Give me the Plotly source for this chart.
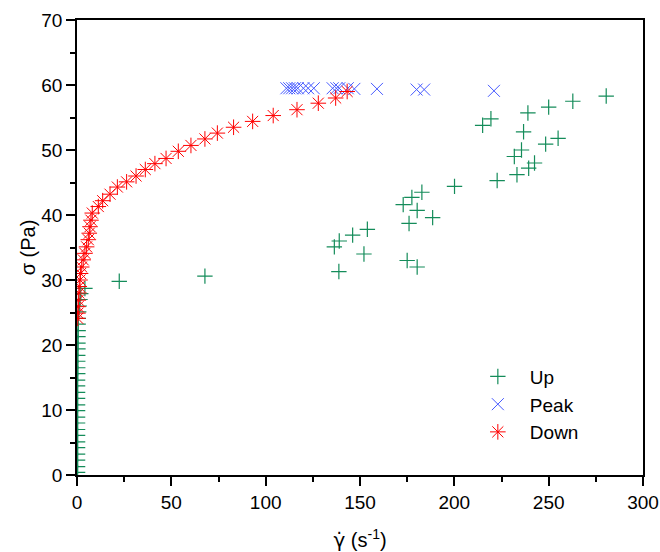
import plotly.graph_objects as go

# Up series (shear-rate, stress)
up_x = [0.3, 0.3, 0.3, 0.3, 0.3, 0.3, 0.3, 0.3, 0.3, 0.3,
        0.3, 0.3, 0.3, 0.3, 0.3, 0.3, 0.4, 0.4, 0.4, 0.4,
        0.5, 0.5, 0.5, 0.6, 0.6, 0.7, 0.9, 1.2, 1.6, 2.0,
        4.2, 22.4, 67.8, 138.8, 180.3, 175.0, 152.1, 136.4, 139.0, 146.1,
        153.9, 176.0, 188.5, 180.3, 172.9, 177.5, 182.8, 200.1, 222.7, 233.2,
        239.4, 242.5, 231.8, 235.6, 248.4, 255.0, 236.7, 215.0, 219.4, 239.0,
        250.0, 262.8, 280.5]
up_y = [0.4, 1.3, 2.3, 3.2, 4.2, 5.1, 6.1, 7.0, 8.0, 8.9,
        9.9, 10.8, 11.8, 12.7, 13.7, 14.6, 15.6, 16.5, 17.5, 18.4,
        19.4, 20.3, 21.3, 22.2, 23.2, 24.1, 25.1, 26.0, 27.0, 27.9,
        28.7, 29.8, 30.6, 31.3, 32.0, 33.0, 34.0, 35.1, 36.0, 36.9,
        37.8, 38.7, 39.6, 40.7, 41.6, 42.7, 43.5, 44.4, 45.3, 46.2,
        47.2, 48.0, 49.0, 50.0, 50.9, 51.8, 52.8, 53.8, 54.8, 55.7,
        56.6, 57.5, 58.3]

# Peak series
peak_x = [111.0, 112.5, 114.0, 115.5, 117.0, 120.0, 122.5, 125.5, 135.5,
          137.5, 139.0, 143.5, 147.0, 159.0, 180.0, 184.0, 221.0]
peak_y = [59.5, 59.5, 59.5, 59.5, 59.5, 59.5, 59.5, 59.5, 59.5,
          59.5, 59.5, 59.5, 59.4, 59.4, 59.3, 59.3, 59.1]

# Down series
down_x = [143.2, 137.1, 127.9, 116.6, 104.0, 93.1, 83.0, 74.4, 67.8, 60.4,
          53.7, 47.2, 41.3, 36.2, 31.3, 26.3, 21.4, 17.5, 13.6, 11.3,
          8.1, 7.4, 6.9, 6.5, 6.0, 5.1, 4.2, 3.3, 2.5, 1.9,
          1.6, 1.2, 1.0, 0.7, 0.6, 0.5, 0.4]
down_y = [59.0, 58.0, 57.2, 56.2, 55.3, 54.4, 53.5, 52.6, 51.7, 50.7,
          49.8, 48.7, 47.9, 47.0, 46.0, 45.1, 44.3, 43.2, 42.2, 41.3,
          40.3, 39.2, 38.2, 37.2, 36.2, 35.1, 34.1, 33.1, 32.0, 31.0,
          30.0, 29.0, 28.0, 26.9, 25.9, 24.9, 24.1]

FONT = "Arial, Liberation Sans, sans-serif"
UP_C = "rgb(20,140,90)"
PEAK_C = "rgb(70,90,255)"
DOWN_C = "rgb(255,0,0)"

fig = go.Figure()
fig.add_trace(go.Scatter(
    x=up_x, y=up_y, mode="markers", name="Up",
    marker=dict(symbol="cross-thin-open", size=11, color=UP_C,
                line=dict(color=UP_C, width=1.2)),
))
fig.add_trace(go.Scatter(
    x=peak_x, y=peak_y, mode="markers", name="Peak",
    marker=dict(symbol="x-thin-open", size=12, color=PEAK_C,
                line=dict(color=PEAK_C, width=1)),
))
fig.add_trace(go.Scatter(
    x=down_x, y=down_y, mode="markers", name="Down",
    marker=dict(symbol="asterisk-open", size=13, color=DOWN_C,
                line=dict(color=DOWN_C, width=1)),
))

axis_common = dict(
    showgrid=False, zeroline=False, showline=True, linecolor="black",
    linewidth=1.5, mirror=True, ticks="outside", ticklen=9, tickwidth=1.5,
    tickcolor="black", tickfont=dict(family=FONT, size=19, color="black"),
    automargin=False,
)

fig.update_xaxes(
    range=[0, 300], tick0=0, dtick=50,
    minor=dict(dtick=25, ticks="outside", ticklen=5, tickcolor="black", tickwidth=1.5),
    title=dict(text="<span style=\"font-family:DejaVu Sans\">γ\u0307</span> (s<sup>-1</sup>)",
               font=dict(family=FONT, size=20, color="black"), standoff=30),
    **axis_common,
)
fig.update_yaxes(
    range=[0, 70], tick0=0, dtick=10,
    minor=dict(dtick=5, ticks="outside", ticklen=5, tickcolor="black", tickwidth=1.5),
    title=dict(text="σ (Pa)", font=dict(family=FONT, size=20, color="black"),
               standoff=0),
    **axis_common,
)

fig.update_layout(
    width=660, height=552,
    margin=dict(l=77, r=17, t=20, b=77),
    plot_bgcolor="white", paper_bgcolor="white",
    font=dict(family=FONT, color="black"),
    showlegend=True,
    legend=dict(x=0.687, y=0.258, xanchor="left", yanchor="top",
                font=dict(family=FONT, size=19, color="black"),
                bgcolor="rgba(0,0,0,0)", itemwidth=54, tracegroupgap=0),
)

# remove the browser's default body margin so the figure fills the window
fig.write_html(
    "out.html",
    config={"displayModeBar": False},
    post_script="document.body.style.margin='0';document.body.style.overflow='hidden';",
)
